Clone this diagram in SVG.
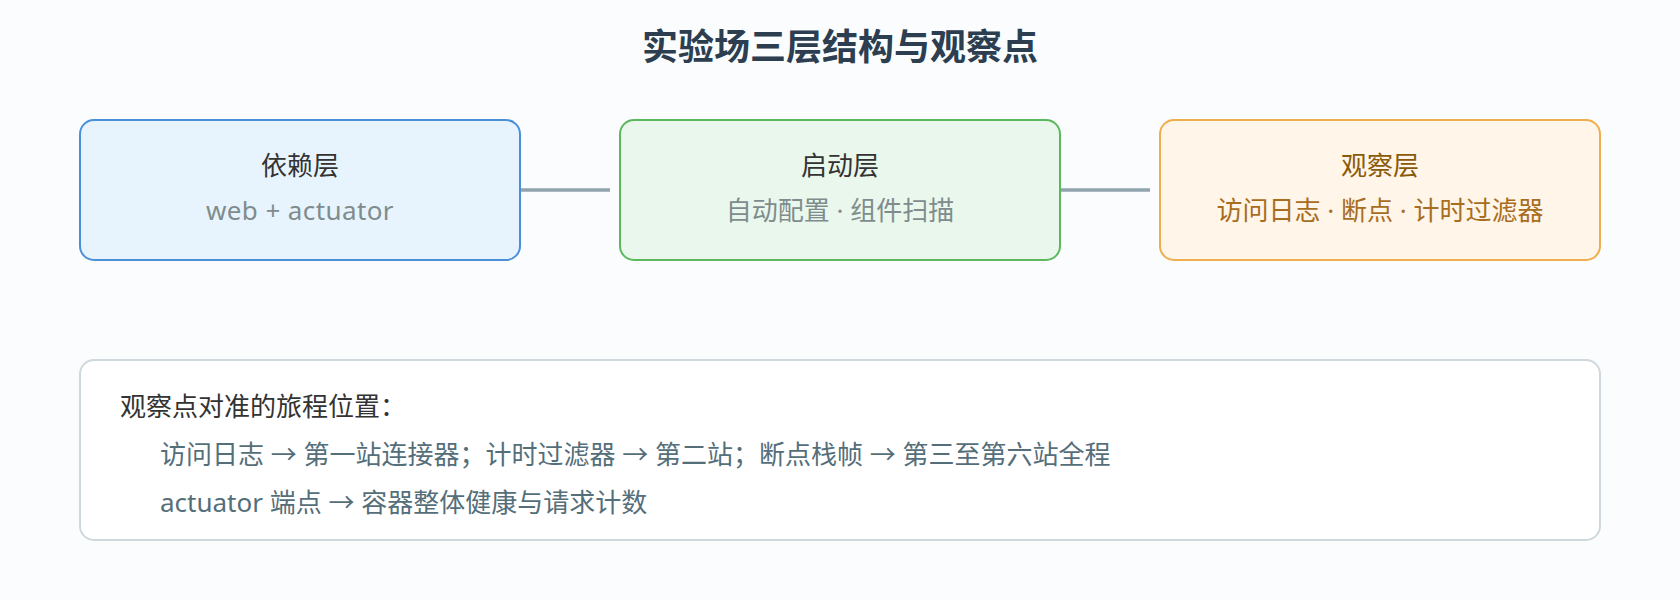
<svg xmlns="http://www.w3.org/2000/svg" width="1680" height="600" viewBox="0 0 1680 600">
<style>
text { font-family: "Noto Sans", "Noto Sans CJK SC", sans-serif; }
.title { font-size: 36px; font-weight: bold; fill: #2c3e50; text-anchor: middle; font-family: "Noto Sans CJK SC", sans-serif; }
.nt { font-size: 26px; fill: #333333; text-anchor: middle; }
.ns { font-size: 26px; fill: #7f8c8d; text-anchor: middle; }
.box { stroke-width: 2; }
.conn { stroke: #90a4ae; stroke-width: 3.5; fill: none; }
.bl { font-size: 26px; fill: #546e7a; }
</style>
<rect width="1680" height="600" fill="#fafcfe"/>
<text class="title" x="840" y="60">实验场三层结构与观察点</text>
<g id="connectors">
<line class="conn" x1="520" y1="190" x2="610" y2="190"/>
<line class="conn" x1="1060" y1="190" x2="1150" y2="190"/>
</g>
<g id="dep">
<rect class="box" x="80" y="120" width="440" height="140" rx="14" fill="#e8f4fd" stroke="#4a90d9"/>
<text class="nt" x="300" y="175">依赖层</text>
<text class="ns" x="300" y="220" style="letter-spacing:0.4px">web + actuator</text>
</g>
<g id="boot">
<rect class="box" x="620" y="120" width="440" height="140" rx="14" fill="#eaf7ec" stroke="#5cb85c"/>
<text class="nt" x="840" y="175">启动层</text>
<text class="ns" x="840" y="220">自动配置 · 组件扫描</text>
</g>
<g id="obs">
<rect class="box" x="1160" y="120" width="440" height="140" rx="14" fill="#fff5e8" stroke="#f0ad4e"/>
<text class="nt" x="1380" y="175" style="fill:#8a5a0b">观察层</text>
<text class="ns" x="1380" y="220" style="fill:#a86d1e">访问日志 · 断点 · 计时过滤器</text>
</g>
<g id="note">
<rect x="80" y="360" width="1520" height="180" rx="14" fill="#ffffff" stroke="#cfd8dc" stroke-width="2"/>
<text class="bl" x="120" y="416" style="fill:#333333">观察点对准的旅程位置：</text>
<text class="bl" x="160" y="464">访问日志 → 第一站连接器；计时过滤器 → 第二站；断点栈帧 → 第三至第六站全程</text>
<text class="bl" x="160" y="512">actuator 端点 → 容器整体健康与请求计数</text>
</g>
</svg>
